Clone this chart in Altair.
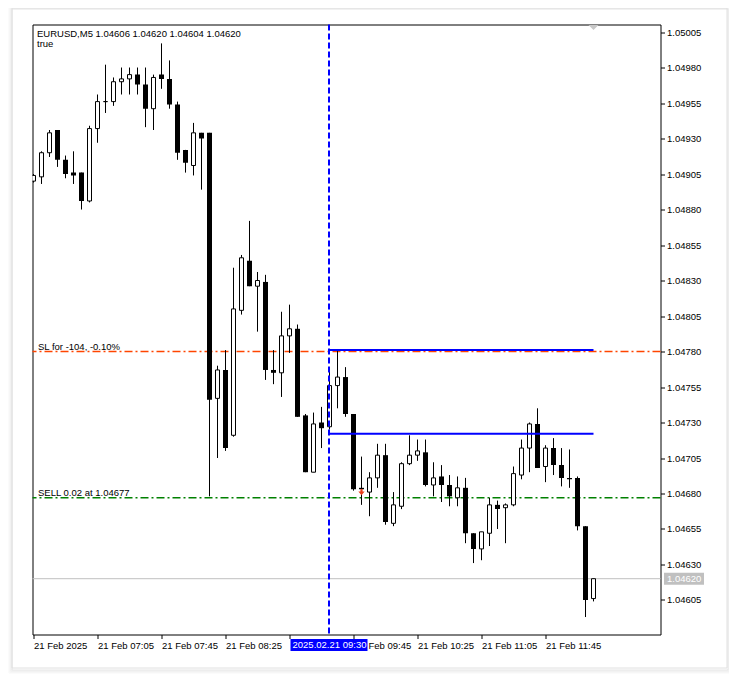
import json
import altair as alt
import pandas as pd

FONT = "Liberation Sans"
FS = 9.5

# ---------------- data ----------------
bar_index = list(range(71))
opens = [1.04900, 1.04903, 1.04920, 1.04936, 1.04915, 1.04906, 1.04906, 1.04886, 1.04937, 1.04956,
         1.04956, 1.04970, 1.04972, 1.04975, 1.04968, 1.04951, 1.04975, 1.04972, 1.04954, 1.04922,
         1.04911, 1.04934, 1.04934, 1.04747, 1.04767, 1.04721, 1.04809, 1.04844, 1.04826, 1.04829,
         1.04767, 1.04765, 1.04791, 1.04796, 1.04735, 1.04695, 1.04730, 1.04727, 1.04756, 1.04762,
         1.04736, 1.04684, 1.04681, 1.04691, 1.04707, 1.04659, 1.04671, 1.04701, 1.04707, 1.04709,
         1.04686, 1.04692, 1.04686, 1.04677, 1.04684, 1.04652, 1.04641, 1.04652, 1.04672, 1.04670,
         1.04672, 1.04693, 1.04712, 1.04729, 1.04699, 1.04712, 1.04700, 1.04691, 1.04691, 1.04657,
         1.04606]
highs = [1.04905, 1.04921, 1.04936, 1.04936, 1.04918, 1.04921, 1.04906, 1.04939, 1.04961, 1.04982,
         1.04973, 1.04980, 1.04980, 1.04980, 1.04980, 1.04975, 1.04997, 1.04985, 1.04956, 1.04922,
         1.04941, 1.04934, 1.04934, 1.04770, 1.04781, 1.04839, 1.04848, 1.04872, 1.04836, 1.04834,
         1.04781, 1.04808, 1.04813, 1.04799, 1.04736, 1.04737, 1.04741, 1.04768, 1.04781, 1.04769,
         1.04736, 1.04706, 1.04695, 1.04715, 1.04715, 1.04681, 1.04702, 1.04721, 1.04718, 1.04718,
         1.04702, 1.04700, 1.04693, 1.04692, 1.04691, 1.04652, 1.04653, 1.04677, 1.04675, 1.04673,
         1.04699, 1.04718, 1.04730, 1.04740, 1.04714, 1.04719, 1.04712, 1.04711, 1.04692, 1.04657,
         1.04620]
lows = [1.04899, 1.04898, 1.04917, 1.04910, 1.04902, 1.04898, 1.04880, 1.04885, 1.04927, 1.04948,
        1.04953, 1.04961, 1.04961, 1.04961, 1.04938, 1.04936, 1.04965, 1.04951, 1.04915, 1.04906,
        1.04904, 1.04894, 1.04678, 1.04705, 1.04710, 1.04720, 1.04806, 1.04826, 1.04794, 1.04760,
        1.04757, 1.04748, 1.04779, 1.04734, 1.04695, 1.04695, 1.04712, 1.04725, 1.04740, 1.04734,
        1.04682, 1.04672, 1.04664, 1.04684, 1.04658, 1.04657, 1.04669, 1.04700, 1.04703, 1.04685,
        1.04678, 1.04674, 1.04671, 1.04671, 1.04645, 1.04631, 1.04633, 1.04643, 1.04655, 1.04645,
        1.04671, 1.04690, 1.04695, 1.04698, 1.04688, 1.04693, 1.04685, 1.04684, 1.04654, 1.04593,
        1.04604]
closes = [1.04904, 1.04920, 1.04934, 1.04915, 1.04905, 1.04904, 1.04886, 1.04937, 1.04956, 1.04956,
          1.04970, 1.04972, 1.04975, 1.04968, 1.04951, 1.04973, 1.04972, 1.04954, 1.04920, 1.04913,
          1.04934, 1.04930, 1.04746, 1.04767, 1.04712, 1.04810, 1.04846, 1.04826, 1.04830, 1.04767,
          1.04765, 1.04791, 1.04796, 1.04734, 1.04695, 1.04729, 1.04726, 1.04756, 1.04762, 1.04736,
          1.04683, 1.04683, 1.04691, 1.04707, 1.04660, 1.04672, 1.04701, 1.04707, 1.04710, 1.04686,
          1.04691, 1.04686, 1.04678, 1.04684, 1.04652, 1.04641, 1.04653, 1.04672, 1.04669, 1.04672,
          1.04694, 1.04712, 1.04729, 1.04698, 1.04712, 1.04700, 1.04691, 1.04690, 1.04657, 1.04605,
          1.04620]

x_tick_values = [0, 8, 16, 24, 32, 40, 48, 56, 64]
# labels hidden behind the highlighted time box are left empty; the visible tail is drawn separately
x_tick_labels = ["21 Feb 2025", "21 Feb 07:05", "21 Feb 07:45", "21 Feb 08:25", "",
                 "", "21 Feb 10:25", "21 Feb 11:05", "21 Feb 11:45"]
partial_label_index = 40
partial_label_text = "Feb 09:45"
y_tick_values = [1.04605, 1.04630, 1.04655, 1.04680, 1.04705, 1.04730, 1.04755, 1.04780, 1.04805,
                 1.04830, 1.04855, 1.04880, 1.04905, 1.04930, 1.04955, 1.04980, 1.05005]

header_text = "EURUSD,M5  1.04606 1.04620 1.04604 1.04620"
sub_text = "true"
sl_price = 1.04780
sl_text = "SL for -104, -0.10%"
sell_price = 1.04677
sell_text = "SELL 0.02 at 1.04677"
bid_price = 1.04620
bid_text = "1.04620"
range_start = 37
range_end = 70
range_levels = [1.04781, 1.04722]
vline_index = 37
vline_text = "2025.02.21 09:30"
sell_arrow_index = 41
sell_arrow_price = 1.04681
shift_index = 70

# ---------------- frames ----------------
df = pd.DataFrame({"i": bar_index, "o": opens, "h": highs, "l": lows, "c": closes})

xs = alt.Scale(domain=[-0.125, 78.375], nice=False, zero=False, padding=0)
ys = alt.Scale(domain=[1.045807, 1.050103], nice=False, zero=False, padding=0)

label_expr = json.dumps(x_tick_labels) + "[round(datum.value/8)]"
x_axis = alt.Axis(values=x_tick_values, labelExpr=label_expr, labelAlign="left", labelBaseline="top",
                  labelPadding=2, tickSize=4, tickColor="black", labelColor="black", labelFont=FONT,
                  labelFontSize=FS, domain=False, grid=False, labelOverlap=False, labelFlush=False,
                  title="")
y_axis = alt.Axis(orient="right", values=y_tick_values, format=".5f", tickSize=4, labelPadding=2,
                  tickColor="black", labelColor="black", labelFont=FONT, labelFontSize=FS,
                  domain=False, grid=False, labelOverlap=False, title="")


def X(f):
    return alt.X(f, type="quantitative", scale=xs, axis=x_axis)


def Y(f):
    return alt.Y(f, type="quantitative", scale=ys, axis=y_axis)


one = pd.DataFrame({"k": [0]})

# soft card shadow (strokes only, so nothing covers the axes)
shadow_layers = []
for e, col in [(4, "#f7f7f7"), (3, "#f2f2f2"), (2, "#ececec"), (1, "#e4e4e4")]:
    shadow_layers.append(
        alt.Chart(one).mark_rect(fillOpacity=0, stroke=col, strokeWidth=1).encode(
            x=alt.value(-20.5 - e + 1), x2=alt.value(694.5 + e),
            y=alt.value(-16.5 - e + 2), y2=alt.value(643.5 + e + 1))
    )
card = alt.Chart(one).mark_rect(fillOpacity=0, stroke="#e0e0e0", strokeWidth=1).encode(
    x=alt.value(-20.5), x2=alt.value(694.5), y=alt.value(-16.5), y2=alt.value(643.5))

wicks = alt.Chart(df).mark_rule(color="black", strokeWidth=1, clip=True).encode(
    x=X("i"), y=Y("l"), y2="h")
bull = alt.Chart(df).transform_filter("datum.c >= datum.o").mark_bar(
    width=4, fill="white", stroke="black", strokeWidth=1, clip=True).encode(
    x=X("i"), y=Y("o"), y2="c")
bear = alt.Chart(df).transform_filter("datum.c < datum.o").mark_bar(
    width=5, color="black", clip=True).encode(
    x=X("i"), y=Y("c"), y2="o")

bid_df = pd.DataFrame({"p": [bid_price], "t": [bid_text]})
bid_line = alt.Chart(bid_df).mark_rule(color="#c0c0c0", strokeWidth=1).encode(y=Y("p"))

sl_df = pd.DataFrame({"p": [sl_price], "t": [sl_text]})
sl_line = alt.Chart(sl_df).mark_rule(stroke="#ff4500", strokeWidth=1.5, strokeDash=[8, 3, 2, 3]).encode(y=Y("p"))
sl_label = alt.Chart(sl_df).mark_text(align="left", baseline="alphabetic", dy=-2, font=FONT,
                                      fontSize=FS, color="black").encode(
    x=alt.value(5.5), y=Y("p"), text="t:N")

sell_df = pd.DataFrame({"p": [sell_price], "t": [sell_text]})
sell_line = alt.Chart(sell_df).mark_rule(stroke="#008000", strokeWidth=1.5, strokeDash=[8, 3, 2, 3]).encode(y=Y("p"))
sell_label = alt.Chart(sell_df).mark_text(align="left", baseline="alphabetic", dy=-2, font=FONT,
                                          fontSize=FS, color="black").encode(
    x=alt.value(5.5), y=Y("p"), text="t:N")

rng_df = pd.DataFrame({"a": [range_start] * 2, "b": [range_end] * 2, "p": range_levels})
rng_lines = alt.Chart(rng_df).mark_rule(color="#0000ff", strokeWidth=2).encode(
    x=X("a"), x2="b", y=Y("p"))

vl_df = pd.DataFrame({"i": [vline_index], "t": [vline_text]})
vline = alt.Chart(vl_df).mark_rule(color="#0000ff", strokeWidth=2, strokeDash=[6, 3], xOffset=-0.5).encode(
    x=X("i"))
vbox = alt.Chart(vl_df).mark_rect(color="#0000ff", xOffset=-39, x2Offset=38).encode(
    x=X("i"), x2="i", y=alt.value(614.5), y2=alt.value(626.5))
vtext = alt.Chart(vl_df).mark_text(align="center", baseline="alphabetic", font=FONT, fontSize=FS,
                                   color="white").encode(
    x=X("i"), y=alt.value(623.8), text="t:N")

part_df = pd.DataFrame({"i": [partial_label_index], "t": [partial_label_text]})
part_label = alt.Chart(part_df).mark_text(align="left", baseline="top", dx=15, dy=2, font=FONT,
                                          fontSize=FS, color="black").encode(
    x=X("i"), y=alt.value(614.0), text="t:N")

arrow_df = pd.DataFrame({"i": [sell_arrow_index], "p": [sell_arrow_price]})
arrow = alt.Chart(arrow_df).mark_point(
    shape="M-0.35,-1L0.35,-1L0.35,-0.15L1,-0.15L0,1L-1,-0.15L-0.35,-0.15Z",
    filled=True, color="#e8401c", opacity=1, size=40).encode(x=X("i"), y=Y("p"))

shift_df = pd.DataFrame({"i": [shift_index]})
shift_mark = alt.Chart(shift_df).mark_point(
    shape="M-1,-0.5L1,-0.5L0,0.5Z", filled=True, color="#c8c8c8", opacity=1, size=100).encode(
    x=X("i"), y=alt.value(3))

bid_box = alt.Chart(bid_df).mark_rect(color="#c0c0c0", yOffset=-6, y2Offset=6).encode(
    x=alt.value(631.5), x2=alt.value(671.5), y=Y("p"), y2="p")
bid_label = alt.Chart(bid_df).mark_text(align="left", baseline="middle", font=FONT, fontSize=FS,
                                        color="white").encode(
    x=alt.value(634.5), y=Y("p"), text="t:N")

hdr_df = pd.DataFrame({"t": [header_text], "s": [sub_text]})
header = alt.Chart(hdr_df).mark_text(align="left", baseline="alphabetic", font=FONT, fontSize=FS,
                                     color="black").encode(
    x=alt.value(4.5), y=alt.value(12.8), text="t:N")
sub = alt.Chart(hdr_df).mark_text(align="left", baseline="alphabetic", font=FONT, fontSize=FS,
                                  color="black").encode(
    x=alt.value(4.5), y=alt.value(22.8), text="s:N")

chart = alt.layer(
    *shadow_layers, card,
    bid_line, sl_line, sell_line,
    wicks, bull, bear,
    rng_lines, vline, arrow, shift_mark,
    sl_label, sell_label, header, sub,
    vbox, vtext, part_label, bid_box, bid_label,
).properties(
    width=628, height=610,
    background="white",
    autosize=alt.AutoSizeParams(type="none"),
    padding={"left": 24.5, "top": 16.5, "right": 68.5, "bottom": 41.5},
).configure_view(
    stroke="black", strokeWidth=1
)

chart.save("out.html", embed_options={"renderer": "svg", "actions": False})
